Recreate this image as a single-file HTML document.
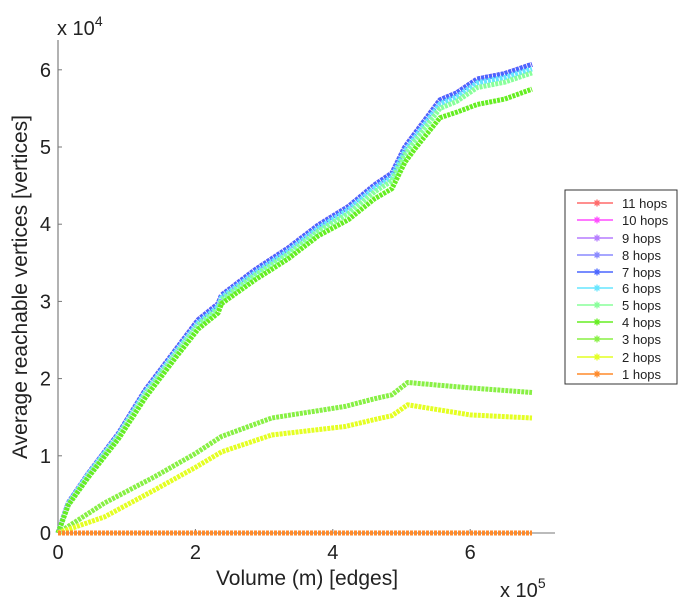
<!DOCTYPE html>
<html><head><meta charset="utf-8"><style>
body{margin:0;background:#fff;font-family:"Liberation Sans",sans-serif}
svg text{font-family:"Liberation Sans",sans-serif;fill:#222}
</style></head><body>
<svg id="c" width="682" height="600" xmlns="http://www.w3.org/2000/svg"></svg>
<script>
const xs = [0,0.15,0.44,0.88,1.27,1.71,2.04,2.33,2.38,2.87,3.35,3.79,4.23,4.61,4.86,5.05,5.2,5.56,5.8,6.1,6.5,6.9];
const topVals = [0,0.39,0.77,1.29,1.85,2.37,2.76,2.97,3.08,3.41,3.69,3.99,4.23,4.51,4.66,5.0,5.18,5.61,5.7,5.88,5.95,6.07];
const s6Vals = [0,0.38,0.76,1.27,1.82,2.34,2.72,2.93,3.05,3.37,3.65,3.95,4.19,4.47,4.61,4.95,5.13,5.56,5.65,5.83,5.9,6.01];
const s5Vals = [0,0.37,0.74,1.25,1.79,2.31,2.69,2.9,3.02,3.34,3.61,3.91,4.14,4.42,4.56,4.9,5.08,5.5,5.59,5.77,5.84,5.96];
const s4Vals = [0,0.36,0.72,1.22,1.75,2.27,2.64,2.85,2.97,3.28,3.55,3.85,4.06,4.33,4.46,4.8,4.98,5.38,5.45,5.55,5.62,5.75];
const xs3 = [0,0.68,1.41,2.0,2.38,3.11,4.18,4.61,4.86,5.09,6.0,6.9];
const s3Vals = [0,0.39,0.73,1.03,1.25,1.49,1.64,1.74,1.79,1.95,1.88,1.82];
const s2Vals = [0,0.21,0.56,0.85,1.05,1.27,1.38,1.47,1.52,1.66,1.53,1.49];
const s1Vals = [0,0,0,0,0,0,0,0,0,0,0,0];
const xTicks = [0,2,4,6];
const yTicks = [0,1,2,3,4,5,6];
const seriesNames = ["11 hops","10 hops","9 hops","8 hops","7 hops","6 hops","5 hops","4 hops","3 hops","2 hops","1 hops"];
const colors = ["#ff6a6a","#ff4cff","#b57cff","#8a8aff","#4a66ff","#66e6ff","#88ff9a","#66ee22","#88f044","#e4ff22","#ff8a2a"];

const NS="http://www.w3.org/2000/svg", svg=document.getElementById('c');
const X0=58, XS=68.7, Y0=533, YS=77.2;
const sx=v=>X0+v*XS, sy=v=>Y0-v*YS;
function mk(t,a,p){const e=document.createElementNS(NS,t);for(const k in a)e.setAttribute(k,a[k]);(p||svg).appendChild(e);return e;}
function star(g,x,y,c,r){
  mk('path',{d:`M${x-r},${y}H${x+r}M${x},${y-r}V${y+r}M${x-r*0.7},${y-r*0.7}L${x+r*0.7},${y+r*0.7}M${x-r*0.7},${y+r*0.7}L${x+r*0.7},${y-r*0.7}`,stroke:c,'stroke-width':1.3,fill:'none'},g);
}

const ax=mk('line',{x1:X0,y1:40,x2:X0,y2:Y0,stroke:'#999','stroke-width':1.5});


const bx=mk('line',{x1:X0,y1:Y0,x2:555,y2:Y0,stroke:'#777','stroke-width':1});


yTicks.forEach(t=>{
  mk('line',{x1:X0,y1:sy(t),x2:X0+4,y2:sy(t),stroke:'#777'});
  const tx=mk('text',{x:X0-7,y:sy(t)+7,'font-size':20,'text-anchor':'end'});tx.textContent=t;
  
  
});
xTicks.forEach(t=>{
  mk('line',{x1:sx(t),y1:Y0,x2:sx(t),y2:Y0-4,stroke:'#777'});
  const tx=mk('text',{x:sx(t),y:Y0+26,'font-size':20,'text-anchor':'middle'});tx.textContent=t;
  
  
});

const seriesData=[[xs,topVals],[xs,topVals],[xs,topVals],[xs,topVals],[xs,topVals],[xs,s6Vals],[xs,s5Vals],[xs,s4Vals],[xs3,s3Vals],[xs3,s2Vals],[xs3,s1Vals]];
seriesData.forEach((d,i)=>{
  const pts=d[0].map((x,j)=>sx(x).toFixed(1)+','+sy(d[1][j]).toFixed(1)).join(' ');
  const pl=mk('polyline',{points:pts,fill:'none',stroke:colors[i],'stroke-width':5,'stroke-linejoin':'round','stroke-dasharray':'3 1'});
  
  
});

let t=mk('text',{x:57,y:35,'font-size':20});t.innerHTML='x 10<tspan dy="-9" font-size="14">4</tspan>';


t=mk('text',{x:500,y:597,'font-size':20});t.innerHTML='x 10<tspan dy="-9" font-size="14">5</tspan>';


t=mk('text',{x:307,y:585,'font-size':21,'text-anchor':'middle'});t.textContent='Volume (m) [edges]';


t=mk('text',{x:0,y:0,'font-size':21,'text-anchor':'middle',transform:'translate(27,287) rotate(-90)'});t.textContent='Average reachable vertices [vertices]';



const lg=mk('g',{});


mk('rect',{x:565,y:190,width:112,height:194,fill:'#fff',stroke:'#333','stroke-width':1},lg);
const ly=[203,220,238,255,272,288,305,322,339,357,374];
seriesNames.forEach((n,i)=>{
  const g=mk('g',{},lg);
  
  
  mk('line',{x1:577,y1:ly[i],x2:613,y2:ly[i],stroke:colors[i],'stroke-width':1.5},g);
  star(g,597,ly[i],colors[i],3.5);
  const tx=mk('text',{x:622,y:ly[i]+5,'font-size':13},g);tx.textContent=n;
});
</script>
</body></html>
